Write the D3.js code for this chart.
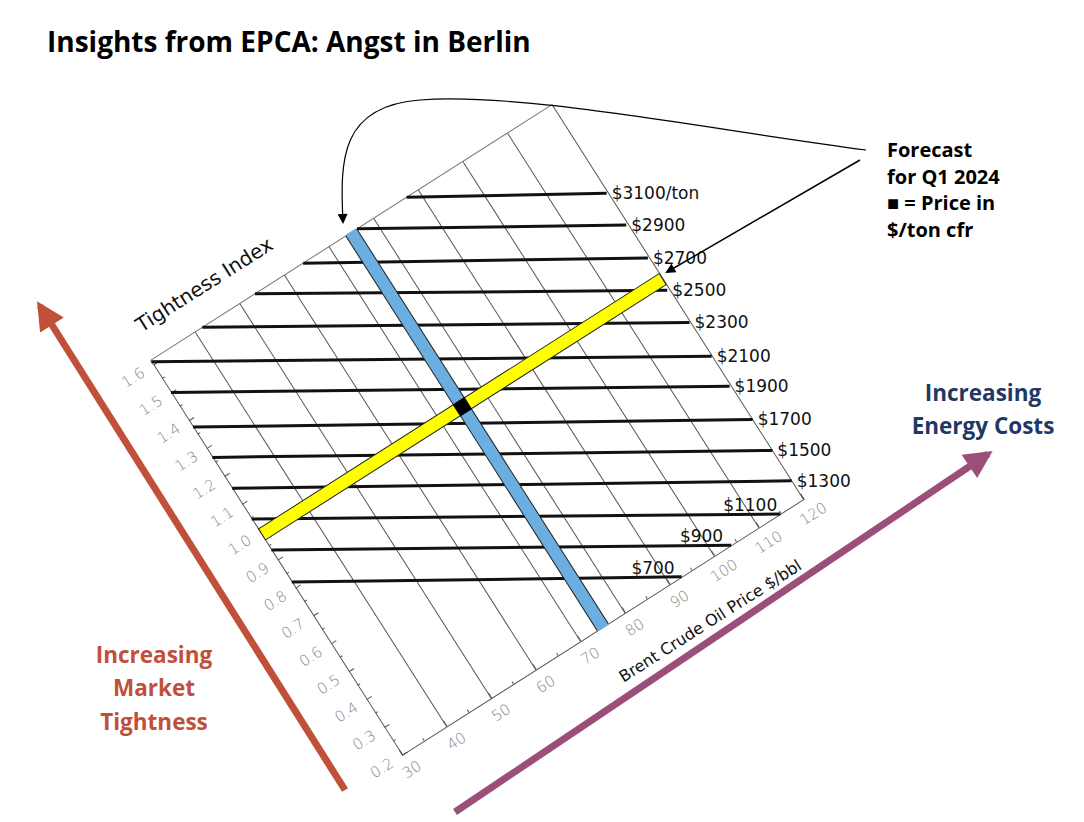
<!DOCTYPE html>
<html><head><meta charset="utf-8">
<script src="https://cdn.jsdelivr.net/npm/d3@7"></script>
<style>body{margin:0;background:#fff}</style></head>
<body><svg id="c" width="1084" height="822"></svg>
<script>
// ---- data ----
const oilTicks = [30,40,50,60,70,80,90,100,110,120];
const tightTicks = [0.2,0.3,0.4,0.5,0.6,0.7,0.8,0.9,1.0,1.1,1.2,1.3,1.4,1.5,1.6];
const tightTop = 1.615;
const priceLabels = ["$3100/ton","$2900","$2700","$2500","$2300","$2100","$1900","$1700","$1500","$1300","$1100","$900","$700"];
// each iso-price line: [oilStart, tightStart, oilEnd, tightEnd]
const priceLines = [
 [87.4,1.615,119.7,1.30],[76.3,1.615,119.6,1.187],[64.2,1.615,119.7,1.068],[53.4,1.615,119.5,0.954],
 [41.6,1.615,119.8,0.836],[30,1.61,119.9,0.714],[30,1.50,119.7,0.608],[30,1.376,120,0.486],
 [30,1.267,120,0.375],[30,1.156,120,0.266],[30,1.046,114.8,0.2],[30,0.935,103.8,0.2],[30,0.82,92.7,0.2]
];
const forecastOil = 75;
const forecastTight = 0.99;

const svg = d3.select("#c");
const W = 476, H = 463, ox = 402, oy = 755, ang = -32.5;
const x = d3.scaleLinear().domain([30,120]).range([0,W]);
const y = d3.scaleLinear().domain([0.2,1.6]).range([0,-H]);
const toScreen = (o,t)=>{const a=ang*Math.PI/180, px=x(o), py=y(t);
  return [ox+px*Math.cos(a)-py*Math.sin(a), oy+px*Math.sin(a)+py*Math.cos(a)];};

svg.append("text").attr("x",47).attr("y",52).attr("font-family","Open Sans").attr("font-weight","bold")
  .attr("font-size",28).text("Insights from EPCA: Angst in Berlin");

const defs = svg.append("defs");
function mk(id,col,w,h){defs.append("marker").attr("id",id).attr("viewBox","0 0 10 10").attr("refX",8).attr("refY",5)
 .attr("markerWidth",w).attr("markerHeight",h).attr("orient","auto").attr("markerUnits","userSpaceOnUse")
 .append("path").attr("d","M0,0L10,5L0,10z").attr("fill",col);}
mk("ab","#000",12,10); mk("ar","#C0503A",30,28); mk("ap","#9B4F78",30,28);

// big arrows
svg.append("line").attr("x1",345).attr("y1",790).attr("x2",40).attr("y2",306).attr("stroke","#C0503A").attr("stroke-width",7).attr("marker-end","url(#ar)");
svg.append("line").attr("x1",455).attr("y1",812).attr("x2",988).attr("y2",454).attr("stroke","#9B4F78").attr("stroke-width",7).attr("marker-end","url(#ap)");

const g = svg.append("g").attr("transform",`translate(${ox},${oy}) rotate(${ang})`);
// grid
g.selectAll(".gv").data(oilTicks.slice(1)).join("line").attr("x1",d=>x(d)).attr("x2",d=>x(d))
 .attr("y1",y(0.2)).attr("y2",y(tightTop)).attr("stroke","#555").attr("stroke-width",1);
g.append("line").attr("x1",0).attr("x2",W).attr("y1",y(tightTop)).attr("y2",y(tightTop)).attr("stroke","#777");
g.append("line").attr("x1",0).attr("x2",0).attr("y1",y(1.6)).attr("y2",y(tightTop)).attr("stroke","#777");
// axes
const ax = g.append("g").call(d3.axisBottom(x).tickValues(oilTicks).tickSize(-6).tickPadding(12).tickFormat(d3.format("d")));
const ay = g.append("g").call(d3.axisLeft(y).tickValues(tightTicks).tickSize(-6).tickPadding(12).tickFormat(d3.format(".1f")));
[ax,ay].forEach(a=>{a.selectAll("path,line").attr("stroke","#555");a.selectAll("text").attr("fill","#888").attr("font-size",15).attr("font-family","DejaVu Sans").attr("font-weight",300);});
// minor ticks
g.selectAll(".mt").data(d3.range(35,120,10)).join("line").attr("x1",d=>x(d)).attr("x2",d=>x(d)).attr("y1",0).attr("y2",-3).attr("stroke","#555");
g.selectAll(".my").data(d3.range(0.25,1.6,0.1)).join("line").attr("x1",0).attr("x2",3).attr("y1",d=>y(d)).attr("y2",d=>y(d)).attr("stroke","#555");
// price lines
g.selectAll(".pl").data(priceLines).join("line").attr("x1",d=>x(d[0])).attr("y1",d=>y(d[1]))
 .attr("x2",d=>x(d[2])).attr("y2",d=>y(d[3])).attr("stroke","#111").attr("stroke-width",3);
// forecast bands
g.append("line").attr("x1",x(forecastOil)).attr("x2",x(forecastOil)).attr("y1",y(0.2)).attr("y2",y(tightTop)).attr("stroke","#222").attr("stroke-width",14);
g.append("line").attr("x1",x(forecastOil)).attr("x2",x(forecastOil)).attr("y1",y(0.2)+1).attr("y2",y(tightTop)-1).attr("stroke","#6CAEE0").attr("stroke-width",12);
g.append("line").attr("x1",x(30)).attr("x2",x(120)).attr("y1",y(forecastTight)).attr("y2",y(forecastTight)).attr("stroke","#222").attr("stroke-width",14);
g.append("line").attr("x1",x(30)+1).attr("x2",x(120)-1).attr("y1",y(forecastTight)).attr("y2",y(forecastTight)).attr("stroke","#FFFF00").attr("stroke-width",12);
g.append("rect").attr("x",x(forecastOil)-7).attr("y",y(forecastTight)-7).attr("width",14).attr("height",14).attr("fill","#000");
// axis titles
g.append("text").attr("x",86).attr("y",-496).attr("text-anchor","middle").attr("font-family","DejaVu Sans").attr("font-size",20).attr("fill","#111").text("Tightness Index");
g.append("text").attr("x",332).attr("y",58).attr("text-anchor","middle").attr("font-family","DejaVu Sans").attr("font-size",16).attr("fill","#111").text("Brent Crude Oil Price $/bbl");

// price labels (screen space)
priceLines.forEach((d,i)=>{const p=toScreen(d[2],d[3]); const low=i>=10;
 svg.append("text").attr("x",low?p[0]-[3,8,7][i-10]:p[0]+5).attr("y",low?p[1]-3:p[1]+6)
  .attr("text-anchor",low?"end":"start").attr("font-family","DejaVu Sans").attr("font-size",17).attr("fill","#111").text(priceLabels[i]);});

// side texts
const st=(t,xx,yy,c)=>svg.append("text").attr("x",xx).attr("y",yy).attr("text-anchor","middle").attr("font-family","Open Sans").attr("font-weight","bold").attr("font-size",22.5).attr("fill",c).text(t);
st("Increasing",154,663,"#C0503A");st("Market",154,696,"#C0503A");st("Tightness",154,730,"#C0503A");
st("Increasing",983,401,"#1F3864");st("Energy Costs",983,434,"#1F3864");
["Forecast","for Q1 2024","■ = Price in","$/ton cfr"].forEach((t,i)=>svg.append("text").attr("x",887).attr("y",157+i*26.5)
 .attr("font-family","Open Sans").attr("font-weight","bold").attr("font-size",20).attr("fill","#000").text(t));
// callout arrows
svg.append("path").attr("d","M866,150 C700,128 520,92 420,100 C340,106 340,160 343,222").attr("fill","none").attr("stroke","#000").attr("stroke-width",1.2).attr("marker-end","url(#ab)");
svg.append("line").attr("x1",860).attr("y1",160).attr("x2",667).attr("y2",272).attr("stroke","#000").attr("stroke-width",1.5).attr("marker-end","url(#ab)");
</script></body></html>
